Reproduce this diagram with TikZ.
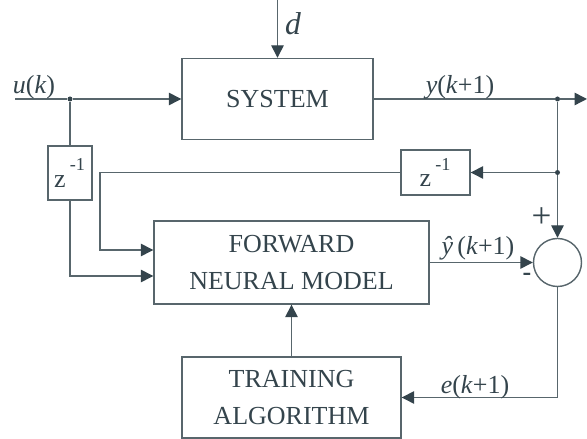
\documentclass[tikz,border=0pt]{standalone}
\usepackage{fontspec}
\setmainfont{Liberation Serif}
\usetikzlibrary{arrows.meta, positioning}
\definecolor{linegray}{RGB}{88,102,108}
\definecolor{darkslate}{RGB}{52,68,76}

\begin{document}
\begin{tikzpicture}[
    font=\fontsize{14.8}{21.5}\selectfont,
    block/.style={draw=linegray, line width=0.8pt, text=darkslate, align=center, inner sep=0pt},
    delay/.style={block, minimum width=0.88cm, minimum height=1.08cm},
    arr/.style={-{Triangle[length=0.25cm,width=0.25cm,color=darkslate]}, draw=linegray, line width=0.8pt},
    line/.style={draw=linegray, line width=0.8pt},
    lbl/.style={text=darkslate, inner sep=0pt},
    dot/.style={circle, fill=darkslate, inner sep=0pt, minimum size=0.1cm}
  ]
  \useasboundingbox (0,0) rectangle (11.74,8.78);

  % Blocks
  \node[block, minimum width=3.82cm, minimum height=1.62cm] (sys) at (5.55,6.80) {SYSTEM};
  \node[block, minimum width=5.50cm, minimum height=1.66cm] (fnm) at (5.83,3.53) {FORWARD\\NEURAL MODEL};
  \node[block, minimum width=4.38cm, minimum height=1.62cm] (train) at (5.83,0.83) {TRAINING\\ALGORITHM};
  \node[delay] (zu) at (1.40,5.32) {z\,\raisebox{0.6ex}{\textsuperscript{-1}}};
  \node[block, minimum width=1.38cm, minimum height=0.90cm] (zy) at (8.71,5.33) {z\,\raisebox{0.6ex}{\textsuperscript{-1}}};
  \node[circle, draw=linegray, line width=0.8pt, minimum size=0.96cm, inner sep=0pt] (sum) at (11.15,3.53) {};

  % Branch points and free ends
  \coordinate (dtop) at (5.55,8.78);
  \coordinate (uin) at (0.30,6.80);
  \coordinate (yout) at (11.74,6.80);
  \coordinate (fbcorner) at (2.00,5.33);
  \node[dot] (usplit) at (1.40,6.80) {};
  \node[dot] (ysplit) at (11.15,6.80) {};
  \node[dot] (fbsplit) at (11.15,5.33) {};

  % Signal lines
  \draw[arr] (dtop) -- (sys.north);
  \draw[line] (uin) -- (usplit);
  \draw[arr] (usplit) -- (sys.west);
  \draw[line] (usplit) -- (zu.north);
  \draw[arr] (zu.south) |- ([yshift=-0.27cm]fnm.west);
  \draw[line] (zy.west) -- (fbcorner);
  \draw[arr] (fbcorner) |- ([yshift=0.25cm]fnm.west);
  \draw[line] (sys.east) -- (ysplit);
  \draw[arr] (ysplit) -- (yout);
  \draw[line] (ysplit) -- (fbsplit);
  \draw[arr] (fbsplit) -- (zy.east);
  \draw[arr] (fbsplit) -- (sum.north);
  \draw[arr] (fnm.east) -- (sum.west);
  \draw[arr] (sum.south) |- (train.east);
  \draw[arr] (train.north) -- (fnm.south);

  % Labels
  \node[lbl, font=\fontsize{18}{20}\selectfont] (dlbl) at (5.86,8.30) {\textit{d}};
  \node[lbl] (ulbl) at (0.68,7.04) {\textit{u}(\textit{k})};
  \node[lbl] (ylbl) at (9.20,7.04) {\textit{y}(\textit{k}+1)};
  \node[lbl] (yhlbl) at (9.56,3.82) {\textit{ŷ}\,(\textit{k}+1)};
  \node[lbl] (elbl) at (9.50,1.04) {\textit{e}(\textit{k}+1)};
  \node[lbl, font=\fontsize{20}{22}\selectfont] (plus) at (10.83,4.42) {+};
  \node[lbl] (minus) at (10.54,3.24) {\textbf{-}};
\end{tikzpicture}
\end{document}
